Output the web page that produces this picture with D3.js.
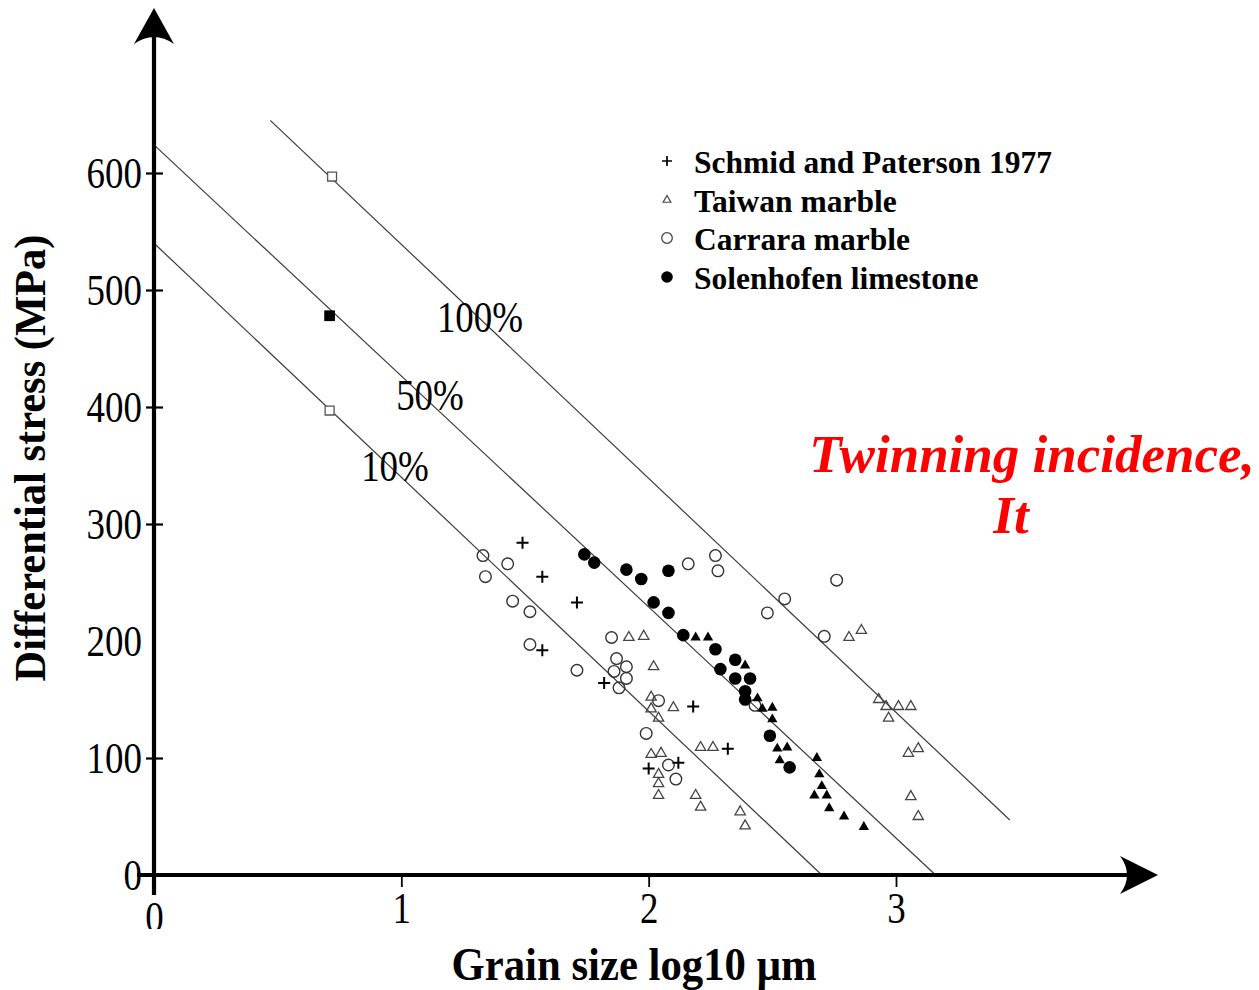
<!DOCTYPE html>
<html>
<head>
<meta charset="utf-8">
<script src="https://cdn.jsdelivr.net/npm/d3@7"></script>
<style>
    body { margin: 0; background: #fff; }
    svg { display: block; }
</style>
</head>
<body>
<div id="chart"></div>
<script>
// values: [grain size log10 um, differential stress MPa]
const schmidPaterson = [[1.49, 284], [1.57, 255], [1.71, 233], [1.57, 192], [1.82, 164], [2.18, 144],
    [2.32, 108], [2.00, 91], [2.12, 96]];
const taiwanMarble = [[1.92, 203], [1.98, 204], [2.02, 178], [2.01, 152], [2.01, 142], [2.04, 134],
    [2.10, 143], [2.21, 109], [2.26, 109], [2.01, 103], [2.05, 104], [2.04, 86], [2.04, 78], [2.04, 68],
    [2.19, 68], [2.21, 58], [2.37, 54], [2.39, 42], [2.81, 203], [2.86, 209], [2.93, 150], [2.96, 144],
    [3.01, 144], [3.06, 144], [2.97, 134], [3.05, 104], [3.09, 108], [3.06, 67], [3.09, 50]];
const carraraMarble = [[1.33, 273], [1.43, 266], [1.34, 255], [1.45, 234], [1.52, 225], [1.52, 197],
    [1.71, 175], [1.85, 203], [1.87, 185], [1.91, 178], [1.86, 174], [1.91, 168], [1.88, 160], [2.04, 149],
    [1.99, 121], [2.08, 94], [2.11, 82], [2.16, 266], [2.27, 273], [2.28, 260], [2.43, 145], [2.48, 224],
    [2.55, 236], [2.71, 204], [2.76, 252]];
const solenhofen = [[1.74, 274], [1.78, 267], [1.91, 261], [1.97, 253], [2.08, 260], [2.02, 233],
    [2.08, 224], [2.14, 205], [2.27, 193], [2.35, 184], [2.29, 176], [2.35, 168], [2.41, 168], [2.39, 157],
    [2.39, 150], [2.49, 119], [2.57, 92]];
// filled triangles (no legend entry in the figure)
const filledTriangles = [[2.19, 203], [2.24, 203], [2.39, 179], [2.44, 151], [2.46, 142], [2.50, 143],
    [2.50, 133], [2.52, 108], [2.56, 109], [2.53, 98], [2.68, 100], [2.69, 86], [2.70, 76], [2.67, 68],
    [2.72, 68], [2.73, 57], [2.79, 50], [2.87, 41]];
const openSquares = [[0.72, 597], [0.71, 397]];
const filledSquares = [[0.71, 478]];

// twinning incidence lines
const trendLabels = ["10%", "50%", "100%"];
const trendStart = [[0, 540], [0, 624], [0.47, 645]];
const trendEnd = [[2.70, 0], [3.16, 0], [3.46, 47]];

const xTicks = [0, 1, 2, 3];
const xTickMarks = [1, 2, 3];
const yTicks = [0, 100, 200, 300, 400, 500, 600];
const yTickMarks = [0, 100, 300, 400, 500, 600];

const legendLabels = ["Schmid and Paterson 1977", "Taiwan marble", "Carrara marble", "Solenhofen limestone"];

const serif = '"Liberation Serif", "Times New Roman", serif';
const width = 1259, height = 990;

const svg = d3.select("#chart").append("svg")
    .attr("width", width)
    .attr("height", height)
    .style("font-family", serif);

const x = d3.scaleLinear().domain([0, 3]).range([154, 896]);
const y = d3.scaleLinear().domain([0, 600]).range([875, 173]);

// the x "0" label is cut off at the bottom in the source (tick-local coords)
svg.append("clipPath").attr("id", "cut0")
    .append("rect").attr("x", -60).attr("y", -100).attr("width", 120).attr("height", 154);

// trend lines
const lines = svg.append("g").attr("class", "trend");
trendLabels.forEach((lab, i) => {
    lines.append("line")
        .attr("x1", x(trendStart[i][0])).attr("y1", y(trendStart[i][1]))
        .attr("x2", x(trendEnd[i][0])).attr("y2", y(trendEnd[i][1]))
        .attr("stroke", "#3a3a3a")
        .attr("stroke-width", 1.2);
});

const labelAt = [[395, 481], [430, 410], [480, 332]];
trendLabels.forEach((lab, i) => {
    svg.append("text")
        .attr("transform", `translate(${labelAt[i][0]},${labelAt[i][1]}) scale(0.84,1)`)
        .attr("text-anchor", "middle")
        .style("font-size", "44px")
        .text(lab);
});

// axes
const yAxis = d3.axisLeft(y).tickValues(yTicks).tickSize(0).tickPadding(0).tickFormat(d3.format("d"));
const gy = svg.append("g").attr("transform", `translate(${x(0)},0)`).call(yAxis);
gy.select(".domain").remove();
gy.selectAll(".tick text")
    .attr("x", null).attr("dy", null)
    .attr("transform", "translate(-12,14) scale(0.84,1)")
    .attr("fill", "#000")
    .style("font-family", serif)
    .style("font-size", "44px");
gy.selectAll(".tick").filter(d => yTickMarks.includes(d))
    .append("line")
    .attr("x1", -8).attr("x2", 9)
    .attr("stroke", "#000")
    .attr("stroke-width", 2.2);

const xAxis = d3.axisBottom(x).tickValues(xTicks).tickSize(0).tickPadding(0).tickFormat(d3.format("d"));
const gx = svg.append("g").attr("transform", `translate(0,${y(0)})`).call(xAxis);
gx.select(".domain").remove();
gx.selectAll(".tick text")
    .attr("y", null).attr("dy", null)
    .attr("transform", d => d === 0 ? "translate(0,57) scale(0.84,1)" : "translate(0,48) scale(0.84,1)")
    .attr("fill", "#000")
    .style("font-family", serif)
    .style("font-size", "44px");
gx.selectAll(".tick").filter(d => d === 0).attr("clip-path", "url(#cut0)");
gx.selectAll(".tick").filter(d => xTickMarks.includes(d))
    .append("line")
    .attr("y1", 0).attr("y2", 12)
    .attr("stroke", "#000")
    .attr("stroke-width", 1.8);

// axis lines with arrow heads
svg.append("line")
    .attr("x1", x(0)).attr("y1", 895).attr("x2", x(0)).attr("y2", 30)
    .attr("stroke", "#000").attr("stroke-width", 4.2);
svg.append("path")
    .attr("d", `M${x(0)},8 L${x(0) + 20},44 Q${x(0)},30 ${x(0) - 20},44 Z`)
    .attr("fill", "#000");
svg.append("line")
    .attr("x1", 137).attr("y1", y(0)).attr("x2", 1135).attr("y2", y(0))
    .attr("stroke", "#000").attr("stroke-width", 4.2);
svg.append("path")
    .attr("d", `M1158,${y(0)} L1120,${y(0) - 19} Q1134,${y(0)} 1120,${y(0) + 19} Z`)
    .attr("fill", "#000");

// markers
const tri = d3.symbol().type(d3.symbolTriangle).size(46);
const sq = d3.symbol().type(d3.symbolSquare);
const plusPath = (s) => `M${-s},0H${s}M0,${-s}V${s}`;

const pts = svg.append("g").attr("class", "points");

pts.selectAll(".sq-open").data(openSquares).join("path")
    .attr("class", "sq-open")
    .attr("transform", d => `translate(${x(d[0])},${y(d[1])})`)
    .attr("d", sq.size(80)())
    .attr("fill", "#fff").attr("stroke", "#555").attr("stroke-width", 1.3);
pts.selectAll(".sq-fill").data(filledSquares).join("path")
    .attr("class", "sq-fill")
    .attr("transform", d => `translate(${x(d[0])},${y(d[1])})`)
    .attr("d", sq.size(115)())
    .attr("fill", "#000");

pts.selectAll(".taiwan").data(taiwanMarble).join("path")
    .attr("class", "taiwan")
    .attr("transform", d => `translate(${x(d[0])},${y(d[1])})`)
    .attr("d", tri())
    .attr("fill", "none").attr("stroke", "#444").attr("stroke-width", 1.3);

pts.selectAll(".carrara").data(carraraMarble).join("circle")
    .attr("class", "carrara")
    .attr("cx", d => x(d[0])).attr("cy", d => y(d[1]))
    .attr("r", 5.8)
    .attr("fill", "none").attr("stroke", "#333").attr("stroke-width", 1.4);

pts.selectAll(".schmid").data(schmidPaterson).join("path")
    .attr("class", "schmid")
    .attr("transform", d => `translate(${x(d[0])},${y(d[1])})`)
    .attr("d", plusPath(6))
    .attr("stroke", "#000").attr("stroke-width", 2);

pts.selectAll(".ftri").data(filledTriangles).join("path")
    .attr("class", "ftri")
    .attr("transform", d => `translate(${x(d[0])},${y(d[1])})`)
    .attr("d", tri())
    .attr("fill", "#000");

pts.selectAll(".solen").data(solenhofen).join("circle")
    .attr("class", "solen")
    .attr("cx", d => x(d[0])).attr("cy", d => y(d[1]))
    .attr("r", 6.3)
    .attr("fill", "#000");

// legend
const legend = svg.append("g").attr("transform", "translate(667,0)");
const rowBase = [173, 212, 250, 289];
legendLabels.forEach((lab, i) => {
    const cy = rowBase[i] - 12;
    if (i === 0) {
        legend.append("path").attr("d", plusPath(5)).attr("transform", `translate(0,${cy})`)
            .attr("stroke", "#000").attr("stroke-width", 1.7);
    } else if (i === 1) {
        legend.append("path").attr("d", d3.symbol().type(d3.symbolTriangle).size(26)())
            .attr("transform", `translate(0,${cy})`)
            .attr("fill", "none").attr("stroke", "#444").attr("stroke-width", 1.2);
    } else if (i === 2) {
        legend.append("circle").attr("cy", cy).attr("r", 5.3)
            .attr("fill", "none").attr("stroke", "#444").attr("stroke-width", 1.3);
    } else {
        legend.append("circle").attr("cy", cy).attr("r", 5.8).attr("fill", "#000");
    }
    legend.append("text")
        .attr("x", 27).attr("y", rowBase[i])
        .style("font-size", "31.5px").style("font-weight", "bold")
        .text(lab);
});

// axis titles
svg.append("text")
    .attr("transform", "translate(45,458) rotate(-90)")
    .attr("text-anchor", "middle")
    .attr("textLength", 447).attr("lengthAdjust", "spacingAndGlyphs")
    .style("font-size", "45px").style("font-weight", "bold")
    .text("Differential stress (MPa)");

svg.append("text")
    .attr("x", 634).attr("y", 980)
    .attr("text-anchor", "middle")
    .attr("textLength", 365).attr("lengthAdjust", "spacingAndGlyphs")
    .style("font-size", "47px").style("font-weight", "bold")
    .text("Grain size log10 μm");

// annotation
const note = svg.append("g").attr("fill", "#ff0000")
    .style("font-size", "53px").style("font-weight", "bold").style("font-style", "italic");
note.append("text").attr("x", 1032).attr("y", 472).attr("text-anchor", "middle").text("Twinning incidence,");
note.append("text").attr("x", 1011).attr("y", 533).attr("text-anchor", "middle").text("It");
</script>
</body>
</html>
